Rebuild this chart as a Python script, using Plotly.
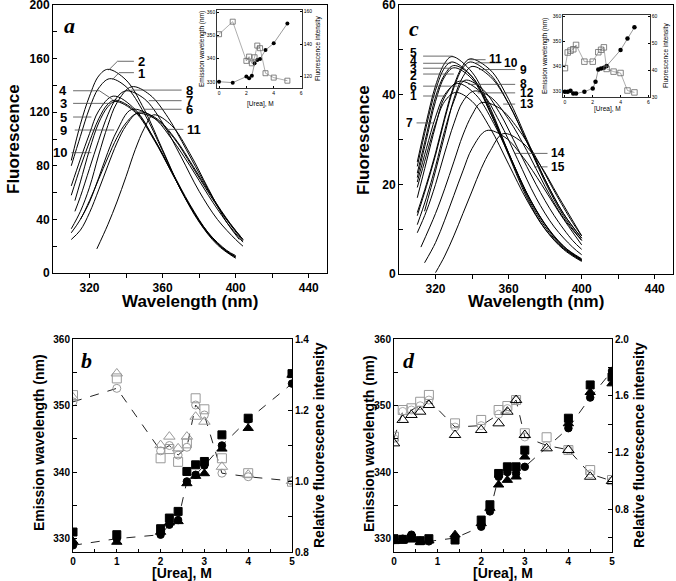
import plotly.graph_objects as go

W, H = 676, 581
FONT = "Liberation Sans, Arial, Helvetica, sans-serif"
SERIF = "Liberation Serif, Times New Roman, serif"

# ---------------- Panel a : emission spectra (wavelength nm, fluorescence) ----------------
A_C1 = [(310, 80), (315, 102), (320, 123), (325, 138), (331, 145), (340, 139), (350, 119), (360, 91), (370, 62), (380, 39), (390, 22), (400, 12)]
A_C2 = [(310, 84), (315, 111), (320, 132), (325, 147), (330, 152), (340, 144), (350, 122), (360, 92), (370, 62), (380, 38), (390, 21), (400, 11)]
A_C3 = [(310, 58), (315, 79), (320, 98), (325, 115), (330, 126), (334, 129), (345, 121), (355, 101), (365, 76), (375, 51), (385, 30), (395, 16), (400, 12)]
A_C4 = [(310, 65), (315, 85), (320, 104), (325, 121), (333, 132), (345, 122), (355, 101), (365, 75), (375, 50), (385, 29), (395, 16), (400, 12)]
A_C5 = [(312, 54), (315, 68), (320, 92), (325, 112), (330, 124), (334, 128), (345, 120), (355, 100), (365, 75), (375, 50), (385, 30), (395, 17), (400, 13)]
A_C6 = [(315, 40), (320, 53), (325, 71), (330, 90), (335, 106), (343, 122), (355, 116), (365, 100), (375, 80), (385, 58), (395, 38), (404, 23)]
A_C7 = [(312, 46), (315, 57), (320, 78), (325, 99), (330, 118), (335, 131), (340, 136), (350, 130), (360, 112), (370, 87), (380, 61), (390, 40), (400, 25), (404, 20)]
A_C8 = [(310, 33), (315, 46), (320, 64), (325, 88), (330, 110), (335, 127), (343, 139), (353, 133), (363, 116), (373, 92), (383, 67), (393, 44), (404, 25)]
A_C9 = [(310, 25), (315, 32), (320, 45), (325, 62), (330, 80), (335, 97), (340, 110), (347, 120), (357, 115), (367, 100), (377, 79), (387, 57), (397, 37), (404, 25)]
A_C10 = [(310, 30), (315, 40), (320, 54), (325, 70), (330, 86), (335, 101), (340, 112), (346, 119), (356, 115), (366, 101), (376, 80), (386, 58), (396, 38), (404, 24)]
A_C11 = [(324, 18), (330, 36), (335, 53), (340, 72), (345, 92), (350, 108), (355, 118), (365, 110), (375, 89), (385, 63), (395, 38), (402, 25)]

# label text, label x, label y, anchor, leader segments
A_LABEL_TEXT = ["2", "1", "4", "3", "5", "9", "10", "8", "7", "6", "11"]
A_LABEL_X = [345.5, 345.5, 309, 309, 309, 309, 309, 371.5, 371.5, 371.5, 372.5]
A_LABEL_Y = [158, 149, 136, 126.6, 116.4, 106.7, 89.8, 136.5, 128.6, 122.2, 107.2]
A_LABEL_SIDE = ["left", "left", "right", "right", "right", "right", "right", "left", "left", "left", "left"]
A_LEADERS = [
    [(344.3, 158), (335.3, 158), (330.5, 151.5)],
    [(344.3, 149.5), (336.2, 149.5), (332.6, 144.5)],
    [(311, 136), (325.4, 136), (332.6, 129.5)],
    [(311, 126.6), (331.5, 126.6)],
    [(311, 116.4), (321, 116.4)],
    [(311.9, 106.7), (333.5, 106.7)],
    [(310.1, 89.8), (321, 89.8)],
    [(342.5, 136.5), (370.4, 136.5)],
    [(352.4, 128.6), (370.4, 128.6)],
    [(349.7, 122.2), (370.4, 122.2)],
    [(363.2, 107.2), (371.4, 107.2)],
]

# ---------------- Panel c : emission spectra ----------------
C_C1 = [(310, 19.3), (315, 26.5), (320, 33.5), (325, 38.5), (331, 40.5), (340, 38.5), (350, 32.5), (360, 24.5), (370, 16.5), (380, 10), (390, 5.7), (400, 3)]
C_C2 = [(310, 21.5), (315, 30), (320, 38.5), (325, 44), (330, 46), (340, 43.5), (350, 36), (360, 27), (370, 18), (380, 11), (390, 6.2), (400, 3.4)]
C_C3 = [(310, 22.5), (315, 31), (320, 39.5), (325, 44.5), (330, 46.5), (340, 44), (350, 36.5), (360, 27), (370, 18), (380, 11), (390, 6), (400, 3.2)]
C_C4 = [(310, 24), (315, 33), (320, 41), (325, 46), (329, 47.3), (340, 44), (350, 36), (360, 26.5), (370, 17), (380, 10), (390, 5.5), (400, 2.8)]
C_C5 = [(310, 25), (315, 34), (320, 42), (325, 47), (329, 48.5), (340, 45), (350, 37), (360, 27), (370, 17.5), (380, 10.5), (390, 5.8), (400, 3)]
C_C6 = [(310, 17), (315, 25), (320, 33), (325, 39.5), (333, 43), (345, 40.5), (355, 34), (365, 25.5), (375, 17), (385, 10.5), (395, 6), (400, 4.3)]
C_C7 = [(310, 20.5), (315, 28), (320, 35), (325, 40), (332, 42.5), (342, 40), (352, 33.5), (362, 25), (372, 16.5), (382, 10), (392, 5.5), (400, 3.2)]
C_C8 = [(310, 11), (315, 17), (320, 24), (325, 32), (330, 38.5), (336, 43.2), (345, 41.5), (355, 36), (365, 28), (375, 20), (385, 13), (395, 7.5), (400, 5.5)]
C_C9 = [(314, 14), (320, 23), (325, 31), (330, 39), (335, 44), (340, 46.3), (350, 44), (360, 38), (370, 29.5), (380, 21), (390, 13.5), (400, 8)]
C_C10 = [(310, 13), (315, 19.5), (320, 26.5), (325, 34.5), (330, 41.5), (335, 46), (339, 47.3), (350, 44.5), (360, 38), (370, 29.5), (380, 20.5), (390, 13), (400, 7.5)]
C_C11 = [(310, 13.7), (315, 20), (320, 27), (325, 35), (330, 42), (335, 46.5), (339, 48), (350, 45.5), (360, 39), (370, 30), (380, 21), (390, 13.5), (400, 8)]
C_C12 = [(310, 9.2), (315, 14), (320, 20), (325, 27), (330, 33.5), (335, 38.5), (341, 40.8), (350, 39.5), (360, 34.5), (370, 27.5), (380, 19.5), (390, 12.5), (400, 7.5)]
C_C13 = [(312, 6), (320, 13.5), (325, 19), (330, 25), (335, 31), (340, 35.5), (345, 38.2), (355, 37), (365, 32.5), (375, 26), (385, 18.5), (395, 11.5), (400, 8.5)]
C_C14 = [(314, 2.5), (320, 7), (325, 12), (330, 17.5), (335, 23), (340, 28), (348, 32), (358, 30.5), (368, 26), (378, 20), (388, 13.5), (400, 6.5)]
C_C15 = [(320, 0.3), (325, 4), (330, 8.5), (335, 13.5), (340, 18.5), (345, 23.5), (350, 27.5), (357, 31.3), (367, 29.5), (377, 24.5), (387, 17.5), (400, 8.5)]

C_LABEL_TEXT = ["5", "4", "3", "2", "6", "1", "7", "11", "10", "9", "8", "12", "13", "14", "15"]
C_LABEL_X = [311, 311, 311, 311, 311, 311, 309, 348.3, 356.6, 364.9, 364.9, 364.9, 364.9, 382.2, 382.2]
C_LABEL_Y = [49.2, 47.5, 45.8, 44.1, 41.8, 39.7, 33.6, 47.9, 47.0, 45.4, 42.3, 40.3, 37.9, 26.9, 23.9]
C_LABEL_SIDE = ["right"] * 7 + ["left"] * 8
C_LEADERS = [
    [(313.2, 48.6), (329.4, 48.6)],
    [(313.2, 47.0), (328.5, 47.0)],
    [(313.2, 45.9), (329, 45.9)],
    [(313.2, 44.6), (330, 44.6)],
    [(313.2, 41.9), (332, 41.9)],
    [(313.2, 39.7), (325.8, 39.7)],
    [(309.6, 33.7), (318.5, 33.7)],
    [(338.4, 47.8), (347.4, 47.8)],
    [(342, 47.1), (355.5, 47.1)],
    [(343.8, 45.6), (363.6, 45.6)],
    [(338, 42.3), (363.6, 42.3)],
    [(343, 40.4), (363.6, 40.4)],
    [(357, 37.9), (363.6, 37.9)],
    [(363.2, 26.9), (381.3, 26.9)],
    [(374, 23.9), (381.3, 23.9)],
]

# ---------------- Inset a ----------------
IA_X = [0, 1, 2, 2.2, 2.4, 2.6, 2.8, 3, 3.4, 4, 5]
IA_EM = [330.1, 329.7, 332.3, 331.6, 332.7, 338.0, 339.4, 339.9, 343.7, 346.6, 355.1]
IA_INT = [146.1, 153.8, 129.7, 132.3, 128.2, 131.9, 139.1, 137.5, 122.1, 119.4, 117.5]

# ---------------- Inset c ----------------
IC_X_EM = [0, 0.2, 0.4, 0.6, 0.8, 1.4, 2, 2.2, 2.4, 2.6, 2.8, 3, 4, 4.5, 5]
IC_EM = [330.0, 330.0, 330.4, 329.3, 329.3, 330.0, 331.3, 333.9, 338.8, 339.2, 339.5, 340.2, 346.5, 351.1, 355.5]
IC_X_INT = [0, 0.2, 0.4, 0.6, 0.8, 1.4, 2, 2.4, 2.6, 2.8, 3, 3.5, 4, 4.5, 5]
IC_INT = [40.7, 46.5, 47.2, 47.7, 49.3, 43.1, 43.1, 46.6, 47.5, 48.4, 40.4, 39.4, 38.9, 32.4, 31.7]

# ---------------- Panel b ----------------
B_X = [0, 1, 2, 2.2, 2.4, 2.6, 2.8, 3, 3.4, 4, 5]
B_EM_SQ = [331.0, 330.6, 331.5, 333.1, 334.1, 340.1, 341.1, 341.6, 345.6, 348.1, 354.8]
B_EM_CI = [329.0, 330.0, 330.6, 332.1, 332.8, 338.6, 339.6, 341.0, 344.0, 347.9, 353.3]
B_EM_TR = [329.6, 329.5, 331.0, 332.4, 332.6, 338.3, 339.4, 339.8, 343.5, 346.6, 354.6]
B_RI_SQ = [1.242, 1.289, 1.064, 1.090, 1.054, 1.106, 1.233, 1.202, 1.064, 1.022, 0.998]
B_RI_CI = [1.223, 1.261, 1.085, 1.100, 1.073, 1.095, 1.214, 1.186, 1.022, 1.012, 1.000]
B_RI_TR = [1.235, 1.303, 1.101, 1.125, 1.092, 1.125, 1.181, 1.167, 1.040, 1.018, 1.000]

# ---------------- Panel d ----------------
D_X = [0, 0.2, 0.4, 0.6, 0.8, 1.4, 2, 2.2, 2.4, 2.6, 2.8, 3, 4, 4.5, 5]
D_EM_SQ = [330.0, 329.9, 330.1, 329.7, 330.0, 329.8, 332.8, 335.1, 339.8, 340.8, 340.8, 343.3, 348.1, 353.1, 354.3]
D_EM_CI = [329.8, 330.0, 330.6, 329.7, 329.6, 330.1, 331.8, 334.1, 339.3, 340.0, 339.8, 340.8, 346.6, 351.2, 355.2]
D_EM_TR = [329.6, 329.7, 329.9, 329.5, 329.7, 330.6, 332.3, 334.6, 338.1, 338.8, 339.3, 342.3, 347.3, 352.0, 353.3]
D_XO = [0, 0.2, 0.4, 0.6, 0.8, 1.4, 2, 2.4, 2.6, 2.8, 3, 3.5, 4, 4.5, 5]
D_RI_SQ = [1.312, 1.500, 1.512, 1.558, 1.606, 1.406, 1.430, 1.500, 1.528, 1.570, 1.336, 1.308, 1.218, 1.077, 1.007]
D_RI_CI = [1.300, 1.490, 1.500, 1.530, 1.570, 1.380, 1.390, 1.470, 1.510, 1.570, 1.310, 1.250, 1.220, 1.050, 1.000]
D_RI_TR = [1.265, 1.430, 1.465, 1.488, 1.535, 1.324, 1.359, 1.406, 1.488, 1.570, 1.324, 1.230, 1.218, 1.030, 1.000]

A_CURVES = [A_C1, A_C2, A_C3, A_C4, A_C5, A_C6, A_C7, A_C8, A_C9, A_C10, A_C11]
C_CURVES = [C_C1, C_C2, C_C3, C_C4, C_C5, C_C6, C_C7, C_C8, C_C9, C_C10, C_C11, C_C12, C_C13, C_C14, C_C15]


def dx(px):
    return px / W


def dy(py):
    return 1 - py / H


fig = go.Figure()

# spectra
for curve in A_CURVES:
    fig.add_trace(go.Scatter(x=[p[0] for p in curve], y=[p[1] for p in curve], mode="lines",
                             line=dict(color="black", width=1, shape="spline", smoothing=1.0),
                             xaxis="x", yaxis="y", hoverinfo="skip"))
for curve in C_CURVES:
    fig.add_trace(go.Scatter(x=[p[0] for p in curve], y=[p[1] for p in curve], mode="lines",
                             line=dict(color="black", width=1, shape="spline", smoothing=1.0),
                             xaxis="x2", yaxis="y2", hoverinfo="skip"))

annotations = []
shapes = []


def add_labels(texts, xs, ys, sides, leaders, xref, yref, size):
    for t, x, y, s in zip(texts, xs, ys, sides):
        annotations.append(dict(text=t, x=x, y=y, xref=xref, yref=yref, showarrow=False,
                                xanchor=s, yanchor="middle",
                                font=dict(family=FONT, size=size, color="black", weight="bold")))
    for seg in leaders:
        for (x0, y0), (x1, y1) in zip(seg[:-1], seg[1:]):
            shapes.append(dict(type="line", x0=x0, y0=y0, x1=x1, y1=y1, xref=xref, yref=yref,
                               line=dict(color="#444", width=0.8)))


add_labels(A_LABEL_TEXT, A_LABEL_X, A_LABEL_Y, A_LABEL_SIDE, A_LEADERS, "x", "y", 13)
add_labels(C_LABEL_TEXT, C_LABEL_X, C_LABEL_Y, C_LABEL_SIDE, C_LEADERS, "x2", "y2", 12)

# insets
fig.add_trace(go.Scatter(x=IA_X, y=IA_EM, mode="lines+markers", xaxis="x5", yaxis="y7",
                         line=dict(color="#555", width=0.6),
                         marker=dict(symbol="circle", size=4, color="black")))
fig.add_trace(go.Scatter(x=IA_X, y=IA_INT, mode="lines+markers", xaxis="x5", yaxis="y8",
                         line=dict(color="#777", width=0.6),
                         marker=dict(symbol="square-open", size=5, color="#666", line=dict(width=0.8))))
fig.add_trace(go.Scatter(x=IC_X_EM, y=IC_EM, mode="lines+markers", xaxis="x6", yaxis="y9",
                         line=dict(color="#555", width=0.6),
                         marker=dict(symbol="circle", size=4.5, color="black")))
fig.add_trace(go.Scatter(x=IC_X_INT, y=IC_INT, mode="lines+markers", xaxis="x6", yaxis="y10",
                         line=dict(color="#777", width=0.6),
                         marker=dict(symbol="square-open", size=5.5, color="#666", line=dict(width=0.8))))


def dash_line(x, y, xa, ya, color="#222"):
    fig.add_trace(go.Scatter(x=x, y=y, mode="lines", xaxis=xa, yaxis=ya,
                             line=dict(color=color, width=1, dash="dash"), hoverinfo="skip"))


def pts(x, y, xa, ya, symbol, size, color, lw=1.0):
    fig.add_trace(go.Scatter(x=x, y=y, mode="markers", xaxis=xa, yaxis=ya,
                             marker=dict(symbol=symbol, size=size, color=color,
                                         line=dict(width=lw, color=color))))


# panel b
dash_line(B_X, B_RI_CI, "x3", "y4")
dash_line(B_X, B_EM_CI, "x3", "y3")
pts(B_X, B_RI_TR, "x3", "y4", "triangle-up-open", 10, "#999")
pts(B_X, B_RI_SQ, "x3", "y4", "square-open", 9, "#999")
pts(B_X, B_RI_CI, "x3", "y4", "circle-open", 8, "#999")
pts(B_X, B_EM_SQ, "x3", "y3", "square", 8, "black")
pts(B_X, B_EM_TR, "x3", "y3", "triangle-up", 9, "black")
pts(B_X, B_EM_CI, "x3", "y3", "circle", 7.5, "black")

# panel d
dash_line(D_XO, D_RI_CI, "x4", "y6")
dash_line(D_X, D_EM_CI, "x4", "y5")
pts(D_XO, D_RI_SQ, "x4", "y6", "square-open", 9, "#999")
pts(D_XO, D_RI_CI, "x4", "y6", "circle-open", 8, "#aaa")
pts(D_XO, D_RI_TR, "x4", "y6", "triangle-up-open", 10, "black")
pts(D_X, D_EM_SQ, "x4", "y5", "square", 8, "black")
pts(D_X, D_EM_TR, "x4", "y5", "triangle-up", 9, "black")
pts(D_X, D_EM_CI, "x4", "y5", "circle", 7.5, "black")


def tf(size):
    return dict(family=FONT, size=size, color="black", weight="bold")


def ax(**kw):
    base = dict(showline=True, linecolor="black", linewidth=1, showgrid=False, zeroline=False,
                ticks="inside", ticklen=4, tickcolor="black", tickwidth=1, tickfont=tf(12),
                automargin=False, ticklabeloverflow="allow")
    base.update(kw)
    return base


def lbl(vals, every):
    return [(str(v) if i % every == 0 else "") for i, v in enumerate(vals)]


a_xt = [320, 340, 360, 380, 400, 420, 440]
a_yt = list(range(0, 201, 20))
c_yt = list(range(0, 61, 10))
bd_xt = [0, 0.5, 1, 1.5, 2, 2.5, 3, 3.5, 4, 4.5, 5]
bd_yt = [330, 335, 340, 345, 350, 355, 360]
b_rt = [0.8, 0.9, 1.0, 1.1, 1.2, 1.3, 1.4]
d_rt = [0.6, 0.8, 1.0, 1.2, 1.4, 1.6, 1.8, 2.0]

top_dom = [dy(273), dy(5)]
bot_dom = [dy(552), dy(339)]
small = dict(family=FONT, size=5, color="black")

fig.update_layout(
    width=W, height=H, margin=dict(l=0, r=0, t=0, b=0, autoexpand=False),
    paper_bgcolor="white", plot_bgcolor="white", showlegend=False,
    xaxis=ax(domain=[dx(53), dx(327)], range=[300, 450], anchor="y", mirror=True, ticks="outside",
             tickvals=a_xt, ticktext=["320", "", "360", "", "400", "", "440"]),
    yaxis=ax(domain=top_dom, range=[0, 200], anchor="x", mirror=True,
             tickvals=a_yt, ticktext=lbl(a_yt, 2)),
    xaxis2=ax(domain=[dx(399), dx(673)], range=[300, 450], anchor="y2", mirror=True, ticks="outside",
              tickvals=a_xt, ticktext=["320", "", "360", "", "400", "", "440"]),
    yaxis2=ax(domain=[dy(274), dy(5)], range=[0, 60], anchor="x2", mirror=True,
              tickvals=c_yt, ticktext=lbl(c_yt, 2)),
    xaxis3=ax(domain=[dx(73), dx(292)], range=[0, 5], anchor="y3", mirror=True, tickfont=tf(10),
              tickvals=bd_xt, ticktext=lbl(bd_xt, 2), ticklen=3),
    yaxis3=ax(domain=bot_dom, range=[328, 360], anchor="x3", tickfont=tf(10),
              tickvals=bd_yt, ticktext=lbl(bd_yt, 2)),
    yaxis4=ax(overlaying="y3", side="right", range=[0.8, 1.4], anchor="x3", tickfont=tf(10),
              tickvals=b_rt, ticktext=["0.8", "", "1.0", "", "1.2", "", "1.4"]),
    xaxis4=ax(domain=[dx(394), dx(612)], range=[0, 5], anchor="y5", mirror=True, tickfont=tf(10),
              tickvals=bd_xt, ticktext=lbl(bd_xt, 2), ticklen=3),
    yaxis5=ax(domain=bot_dom, range=[328, 360], anchor="x4", tickfont=tf(10),
              tickvals=bd_yt, ticktext=lbl(bd_yt, 2)),
    yaxis6=ax(overlaying="y5", side="right", range=[0.5, 2.0], anchor="x4", tickfont=tf(10),
              tickvals=d_rt, ticktext=["", "0.8", "", "1.2", "", "1.6", "", "2.0"]),
    xaxis5=ax(domain=[dx(217), dx(302)], range=[-0.15, 6.07], anchor="y7", mirror=True,
              tickvals=[0, 2, 4, 6], tickfont=small, ticklen=2, linewidth=0.8),
    yaxis7=ax(domain=[dy(88), dy(10)], range=[327.4, 360.9], anchor="x5",
              tickvals=[330, 340, 350, 360], tickfont=small, ticklen=2, linewidth=0.8),
    yaxis8=ax(overlaying="y7", side="right", range=[113, 161], anchor="x5",
              tickvals=[120, 140, 160], tickfont=small, ticklen=2, linewidth=0.8),
    xaxis6=ax(domain=[dx(563), dx(650)], range=[-0.14, 6.12], anchor="y9", mirror=True,
              tickvals=[0, 2, 4, 6], tickfont=small, ticklen=2, linewidth=0.8),
    yaxis9=ax(domain=[dy(97), dy(15)], range=[327.9, 360.4], anchor="x6",
              tickvals=[330, 340, 350, 360], tickfont=small, ticklen=2, linewidth=0.8),
    yaxis10=ax(overlaying="y9", side="right", range=[30, 60.4], anchor="x6",
               tickvals=[30, 40, 50, 60], tickfont=small, ticklen=2, linewidth=0.8),
)


def pa(text, px, py, size, angle=0, family=FONT, weight="bold", style="normal"):
    annotations.append(dict(text=text, x=dx(px), y=dy(py), xref="paper", yref="paper", showarrow=False,
                            xanchor="center", yanchor="middle", textangle=angle,
                            font=dict(family=family, size=size, color="black", weight=weight, style=style)))


# axis titles
pa("Fluorescence", 13, 139, 17, -90)
pa("Wavelength (nm)", 190, 301, 17)
pa("Fluorescence", 363, 140, 17, -90)
pa("Wavelength (nm)", 536, 301, 17)
pa("Emission wavelength (nm)", 39, 443, 14, -90)
pa("Relative fluorescence intensity", 319, 445, 14, -90)
pa("[Urea], M", 182, 573, 14)
pa("Emission wavelength (nm)", 369, 443, 14, -90)
pa("Relative fluorescence intensity", 639, 445, 14, -90)
pa("[Urea], M", 503, 573, 14)
# inset titles
pa("Emission wavelength (nm)", 202, 49, 6.5, -90, weight="normal")
pa("Fluorescence intensity", 318, 49, 6.5, -90, weight="normal")
pa("[Urea], M", 260, 104, 6.5, weight="normal")
pa("Emission wavelength (nm)", 545, 56, 6.5, -90, weight="normal")
pa("Fluorescence intensity", 666, 56, 6.5, -90, weight="normal")
pa("[Urea], M", 607, 109, 6.5, weight="normal")
# panel letters
pa("a", 69, 25, 22, family=SERIF, style="italic")
pa("c", 414, 28, 22, family=SERIF, style="italic")
pa("b", 86, 360, 22, family=SERIF, style="italic")
pa("d", 409, 360, 22, family=SERIF, style="italic")

fig.update_layout(annotations=annotations, shapes=shapes)
fig.write_html("out.html", config={"displayModeBar": False, "staticPlot": True},
               post_script="document.body.style.margin='0';document.body.style.padding='0';"
                           "document.body.style.overflow='hidden';")
